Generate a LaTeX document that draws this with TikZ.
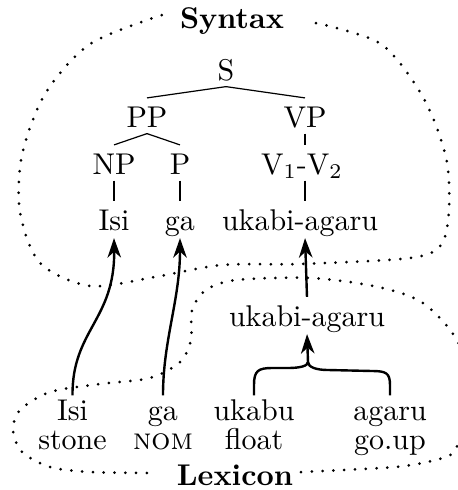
\documentclass[tikz,border=0pt]{standalone}
\usetikzlibrary{arrows.meta}
\begin{document}
\begin{tikzpicture}[x=0.3333pt,y=-0.3333pt,
  tn/.style={inner sep=2pt,text height=7.5pt,text depth=0pt,anchor=base},
  lw/.style={inner sep=0.5pt,text height=7.5pt,text depth=0pt,anchor=base},
  edge/.style={line width=0.4pt},
  arr/.style={line width=0.8pt,-{Stealth[length=6.5pt,width=4.5pt,inset=2pt]},shorten >=0.5pt},
  bracew/.style={line width=0.8pt},
  region/.style={line width=1.0pt,dash pattern=on 0pt off 3.6pt,line cap=round}]
\useasboundingbox (0,0) rectangle (458,490);
\clip (0,0) rectangle (458,490);
% regions
\draw[region] plot[smooth] coordinates {(316,23) (381,44) (423,97) (446,157) (449,210) (441,245) (410,258) (300,264) (222,265) (155,277) (90,286) (40,263) (20,212) (22,155) (45,94) (90,44) (162,15)};
\draw[region] plot[smooth] coordinates {(301,472) (395,467) (435,460) (455,450) (472,400) (458,342) (423,303) (378,287) (311,278) (236,280) (206,290) (192,310) (191,340) (180,362) (150,378) (100,384) (50,392) (20,410) (13,430) (22,452) (50,467) (90,472) (155,473)};
% labels
\node[font=\bfseries,anchor=base,inner sep=0pt] (syn) at (232,28) {Syntax};
\node[font=\bfseries,anchor=base,inner sep=0pt] (lex) at (235,485) {Lexicon};
% tree
\node[tn] (S) at (226,80) {S};
\node[tn] (PP) at (147,127) {PP};
\node[tn] (VP) at (305,127) {VP};
\node[tn] (NP) at (114,174) {NP};
\node[tn] (P) at (180,174) {P};
\node[tn] (V12) at (302,174) {V$_1$-V$_2$};
\node[tn] (isi) at (114,230) {Isi};
\node[tn] (ga) at (180,230) {ga};
\node[tn] (uk) at (300,230) {ukabi-agaru};
\draw[edge] (S.south) -- (PP.north);
\draw[edge] (S.south) -- (VP.north);
\draw[edge] (PP.south) -- (NP.north);
\draw[edge] (PP.south) -- (P.north);
\draw[edge] (VP.south) -- (VP.south |- V12.north);
\draw[edge] (NP.south) -- (isi.north);
\draw[edge] (P.south) -- (ga.north);
\draw[edge] (VP.south |- V12.south) -- (VP.south |- uk.north);
% lexicon
\node[tn] (ukL) at (307,326) {ukabi-agaru};
\node[lw] (isiL) at (72.5,420) {Isi};
\node[lw] (isiG) at (72.5,449) {stone};
\node[lw] (gaL) at (163,420) {ga};
\node[lw] (gaG) at (163,449) {\textsc{nom}};
\node[lw] (ukabuL) at (254,420) {ukabu};
\node[lw] (ukabuG) at (254,449) {float};
\node[lw] (agaruL) at (390,420) {agaru};
\node[lw] (agaruG) at (390,449) {go.up};
% arrows
\draw[arr] (isiL.north) .. controls (72,330) and (115,320) .. (isi.south);
\draw[arr] (gaL.north) .. controls (163,340) and (180,300) .. (ga.south);
\draw[arr] (ukL.north) -- (VP.south |- uk.south);
\coordinate (cusp) at (308,362);
\draw[bracew] (ukabuL.north) -- (254,385) .. controls (254,371) and (258,368) .. (272,368) -- (288,368) .. controls (300,368) and (308,366) .. (cusp);
\draw[bracew] (agaruL.north) -- (390,385) .. controls (390,373) and (386,371) .. (372,371) -- (328,370) .. controls (316,370) and (308,367) .. (cusp);
\draw[arr] (cusp) -- (ukL.south);
\end{tikzpicture}
\end{document}
